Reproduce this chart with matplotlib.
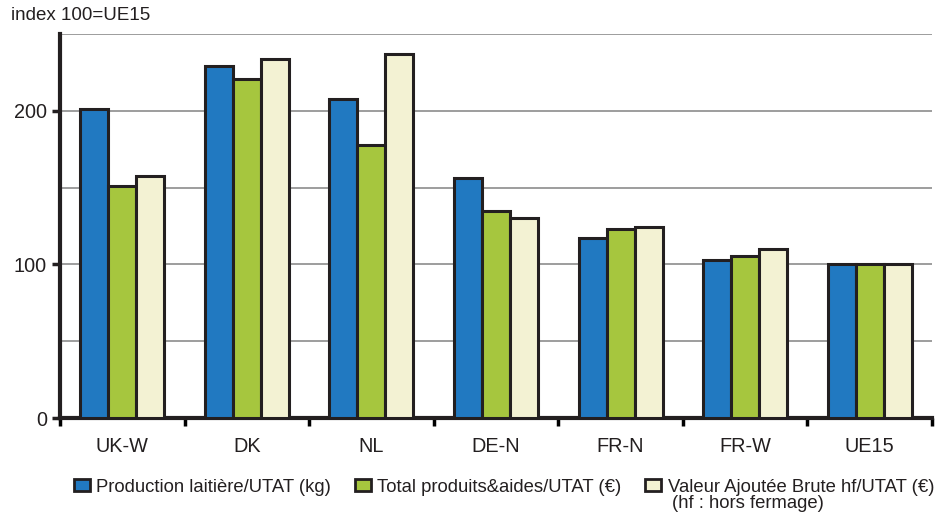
import matplotlib.pyplot as plt
import numpy as np
from matplotlib.patches import Patch

plt.rcParams['font.family'] = ['Liberation Sans', 'DejaVu Sans']

# Donnees (index 100 = UE15)
regions = ["UK-W", "DK", "NL", "DE-N", "FR-N", "FR-W", "UE15"]
production_laitiere = [201, 229, 208, 156, 117.5, 103, 100]
total_produits = [151, 221, 177.5, 135, 123, 105.5, 100]
valeur_ajoutee = [157.5, 233.5, 237, 130.5, 124.5, 110, 100]

series_labels = [
    "Production laitière/UTAT (kg)",
    "Total produits&aides/UTAT (€)",
    "Valeur Ajoutée Brute hf/UTAT (€)",
]
note = "(hf : hors fermage)"
colors = ["#2179c1", "#a6c63e", "#f3f2d3"]
edge = "#231f20"

fig = plt.figure(figsize=(9.37, 5.15), dpi=100)
ax = fig.add_axes([60 / 937, 97 / 515, 872 / 937, 384 / 515])

x = np.arange(len(regions))
w = 0.225
for i, (vals, c) in enumerate(zip([production_laitiere, total_produits, valeur_ajoutee], colors)):
    ax.bar(x + (i - 1) * w, vals, width=w, color=c, edgecolor=edge, linewidth=2.2, zorder=3)

ax.set_xlim(-0.5, len(regions) - 0.5)
ax.set_ylim(0, 250)

# grille
ax.set_yticks([0, 100, 200])
ax.set_yticks([50, 150, 250], minor=True)
ax.yaxis.grid(True, which="both", color="#8c8c8c", linewidth=1.2, zorder=0)
ax.tick_params(axis="y", which="major", direction="out", length=6, width=2.5, labelsize=14.3, colors="#231f20")
ax.tick_params(axis="y", which="minor", length=0)

ax.set_xticks(x)
ax.set_xticklabels(regions)
ax.set_xticks(np.arange(len(regions) + 1) - 0.5, minor=True)
ax.tick_params(axis="x", which="major", length=0, labelsize=14.3, pad=14, colors="#231f20")
ax.tick_params(axis="x", which="minor", direction="out", length=6, width=2.5)

for s in ["top", "right"]:
    ax.spines[s].set_visible(False)
for s in ["left", "bottom"]:
    ax.spines[s].set_linewidth(3)
    ax.spines[s].set_color("#231f20")

fig.text(11 / 937, 1 - 16 / 515, "index 100=UE15", fontsize=13.5, color="#231f20", va="center")

handles = [Patch(facecolor=c, edgecolor=edge, linewidth=2) for c in colors]
leg = fig.legend(handles, series_labels, loc="center left", bbox_to_anchor=(74 / 937, 1 - 487 / 515),
                 ncol=3, frameon=False, fontsize=13.3, handlelength=0.85, handleheight=0.6,
                 handletextpad=0.35, columnspacing=1.3, borderpad=0, borderaxespad=0, labelspacing=0)
for t in leg.get_texts():
    t.set_color("#231f20")

# seconde ligne du libelle, sous le 3e texte de legende
fig.canvas.draw()
bb = leg.get_texts()[2].get_window_extent()
fig.text((bb.x0 + 4) / 937, (bb.y0 + bb.y1) / 2 / 515 - 17 / 515, note, fontsize=13.3,
         color="#231f20", va="center")

fig.savefig("out.png", dpi=100)
